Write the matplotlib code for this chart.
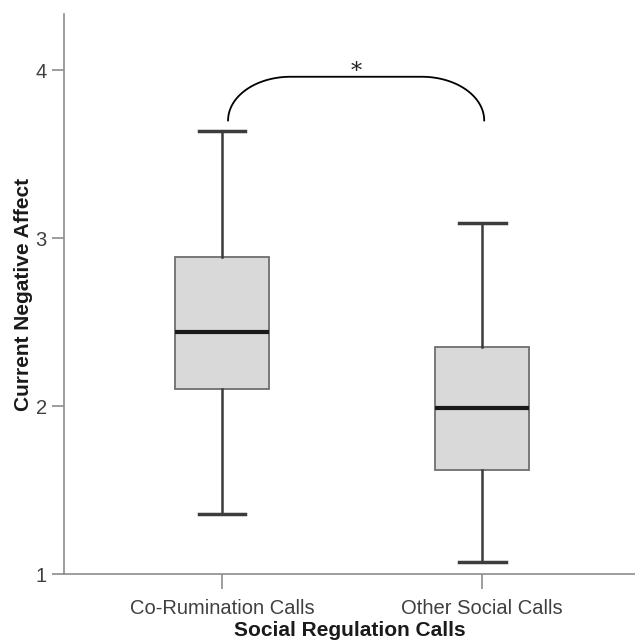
import numpy as np
import matplotlib.pyplot as plt

plt.rcParams['font.family'] = ['Liberation Sans', 'DejaVu Sans']

# box statistics
groups = ['Co-Rumination Calls', 'Other Social Calls']
whislo = [1.36, 1.07]
q1 = [2.10, 1.62]
med = [2.44, 1.99]
q3 = [2.89, 2.35]
whishi = [3.64, 3.09]

stats = []
for i, g in enumerate(groups):
    stats.append({'label': g, 'whislo': whislo[i], 'q1': q1[i], 'med': med[i],
                  'q3': q3[i], 'whishi': whishi[i], 'fliers': []})

fig = plt.figure(figsize=(6.35, 6.41), dpi=100)
ax = fig.add_axes([0.1008, 0.1045, 0.8992, 0.8735])

ax.bxp(stats, positions=[1, 2], widths=0.36, patch_artist=True, showfliers=False,
       boxprops=dict(facecolor='#d9d9d9', edgecolor='#6e6e6e', linewidth=1.3),
       medianprops=dict(color='#1a1a1a', linewidth=3),
       whiskerprops=dict(color='#3c3c3c', linewidth=1.8),
       capprops=dict(color='#3c3c3c', linewidth=2.5),
       capwidths=0.18)

# significance bracket with rounded corners
x0, x1, yb, yt, r = 1.023, 2.008, 3.70, 3.96, 0.24
t = np.linspace(0, np.pi / 2, 50)
lx = x0 + r - r * np.cos(t)
ly = yb + (yt - yb) * np.sin(t)
rx = x1 - r + r * np.cos(t[::-1])
ry = yb + (yt - yb) * np.sin(t[::-1])
ax.plot(np.r_[lx, rx], np.r_[ly, ry], color='black', linewidth=1.3)
ax.text(1.515, 3.925, '*', ha='center', va='bottom', fontsize=16,
        color='#222222', family='DejaVu Serif')

ax.set_xlim(0.392, 2.588)
ax.set_ylim(1, 4.333)
ax.set_yticks([1, 2, 3, 4])
ax.set_xticks([1, 2])
ax.set_xticklabels(groups)

for s in ['top', 'right']:
    ax.spines[s].set_visible(False)
for s in ['left', 'bottom']:
    ax.spines[s].set_color('#8c8c8c')
    ax.spines[s].set_linewidth(1.2)
ax.tick_params(axis='both', colors='#8c8c8c', labelcolor='#404040',
               labelsize=14.5, length=9, width=1.2)
ax.tick_params(axis='x', length=11, pad=7)

ax.set_xlabel('Social Regulation Calls', fontsize=15, fontweight='bold',
              color='#1a1a1a', labelpad=2)
ax.set_ylabel('Current Negative Affect', fontsize=15, fontweight='bold',
              color='#1a1a1a', labelpad=2)

fig.savefig('out.png', dpi=100)
